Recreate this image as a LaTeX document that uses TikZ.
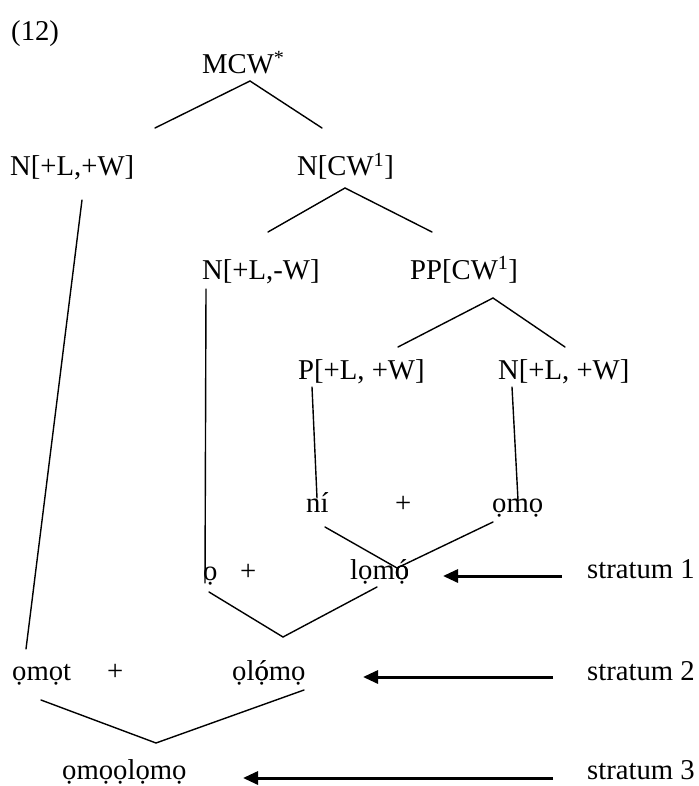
\documentclass[tikz,border=0pt]{standalone}
\usepackage{fontspec}
\setmainfont{Liberation Serif}
\usetikzlibrary{arrows.meta}
\newcommand{\odotac}{\rlap{ó}ọ}
\begin{document}
\begin{tikzpicture}[x=1pt,y=-1pt,
  lab/.style={anchor=base west, inner sep=0pt, font=\fontsize{28.7}{34}\selectfont},
  branch/.style={line width=1.4pt, line cap=round},
  strat/.style={line width=3pt, -{Triangle[length=15pt,width=13pt]}}]
\useasboundingbox (0,0) rectangle (698,786);
% labels
\node[lab] (n12) at (11,41) {(12)};
\node[lab] (mcw) at (202,74) {MCW\textsuperscript{*}};
\node[lab] (nlw) at (10,176) {N[+L,+W]};
\node[lab] (ncw) at (297,176) {N[CW\textsuperscript{1}]};
\node[lab] (nlmw) at (202,279) {N[+L,-W]};
\node[lab] (ppcw) at (410,279) {PP[CW\textsuperscript{1}]};
\node[lab] (plw) at (298,379) {P[+L, +W]};
\node[lab] (nlwb) at (498,379) {N[+L, +W]};
\node[lab] (ni) at (306,512) {ní};
\node[lab] (plusa) at (395,512) {+};
\node[lab] (omo) at (492,512) {ọmọ};
\node[lab] (o) at (203,580) {ọ};
\node[lab] (plusb) at (240,580) {+};
\node[lab] (lomo) at (350,579) {lọm\odotac};
\node[lab] (sa) at (587,578) {stratum 1};
\node[lab] (omot) at (12,680) {ọmọt};
\node[lab] (plusc) at (107,680) {+};
\node[lab] (olomo) at (232,680) {ọl\odotac mọ};
\node[lab] (sb) at (587,680) {stratum 2};
\node[lab] (omoolomo) at (62,779) {ọmọọlọmọ};
\node[lab] (sc) at (587,779) {stratum 3};
% branch points
\coordinate (mcwA) at (250,81);
\coordinate (mcwL) at (155,128);
\coordinate (mcwR) at (322,128);
\coordinate (ncwA) at (345,188);
\coordinate (ncwL) at (268,232);
\coordinate (ncwR) at (432,232);
\coordinate (ppA) at (493,298);
\coordinate (ppL) at (398,347);
\coordinate (ppR) at (565,347);
\coordinate (nlwT) at (82,200);
\coordinate (nlwB) at (26,649);
\coordinate (nlmwT) at (206,289);
\coordinate (nlmwB) at (205,583);
\coordinate (plwT) at (312,387);
\coordinate (plwB) at (317,498);
\coordinate (nlwbT) at (512,387);
\coordinate (nlwbB) at (518,500);
\coordinate (vaL) at (325,527);
\coordinate (vaA) at (397,568);
\coordinate (vaR) at (493,522);
\coordinate (vbL) at (209,592);
\coordinate (vbA) at (283,637);
\coordinate (vbR) at (377,587);
\coordinate (vcL) at (41,700);
\coordinate (vcA) at (156,743);
\coordinate (vcR) at (304,690);
\coordinate (aaT) at (562,576);
\coordinate (aaH) at (443,576);
\coordinate (abT) at (553,677);
\coordinate (abH) at (363,677);
\coordinate (acT) at (553,778);
\coordinate (acH) at (243,778);
% tree lines
\draw[branch] (mcwL) -- (mcwA) -- (mcwR);
\draw[branch] (ncwL) -- (ncwA) -- (ncwR);
\draw[branch] (ppL) -- (ppA) -- (ppR);
\draw[branch] (nlwT) -- (nlwB);
\draw[branch] (nlmwT) -- (nlmwB);
\draw[branch] (plwT) -- (plwB);
\draw[branch] (nlwbT) -- (nlwbB);
\draw[branch] (vaL) -- (vaA) -- (vaR);
\draw[branch] (vbL) -- (vbA) -- (vbR);
\draw[branch] (vcL) -- (vcA) -- (vcR);
% stratum arrows
\draw[strat] (aaT) -- (aaH);
\draw[strat] (abT) -- (abH);
\draw[strat] (acT) -- (acH);
\end{tikzpicture}
\end{document}
